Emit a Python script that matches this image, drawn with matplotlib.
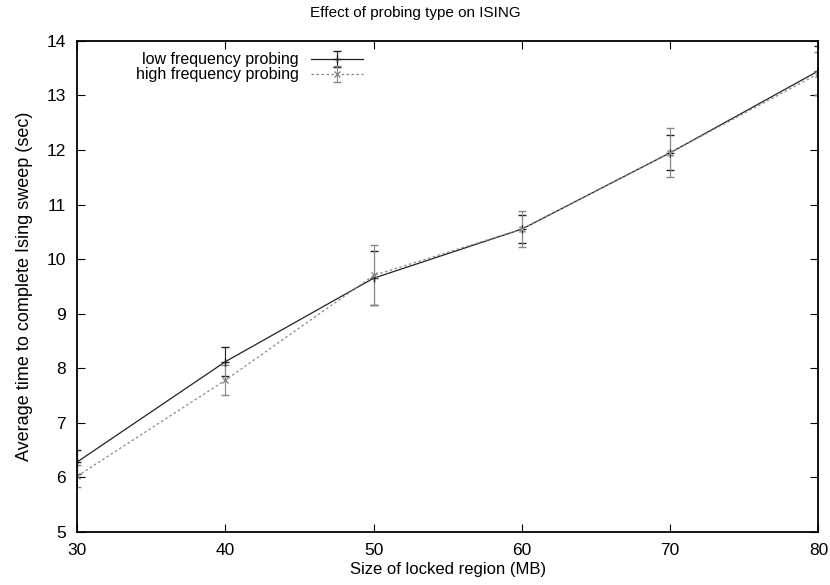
import matplotlib
matplotlib.use("Agg")
import matplotlib.pyplot as plt

plt.rcParams['font.family'] = ['Liberation Sans', 'DejaVu Sans']

# data
size_mb = [30, 40, 50, 60, 70, 80]
low_mean = [6.28, 8.12, 9.65, 10.55, 11.95, 13.45]
low_err = [0.22, 0.27, 0.50, 0.25, 0.32, 0.45]
high_mean = [6.02, 7.78, 9.70, 10.55, 11.95, 13.40]
high_err = [0.20, 0.28, 0.55, 0.33, 0.45, 0.40]

fig = plt.figure(figsize=(8.3, 5.85), dpi=100)
ax = fig.add_axes([0.093, 0.091, 0.893, 0.839])

ax.errorbar(size_mb, low_mean, yerr=low_err, color="#222222", lw=0.9,
            marker="+", ms=6, capsize=3, elinewidth=0.8,
            label="low frequency probing")
ax.errorbar(size_mb, high_mean, yerr=high_err, color="#888888", lw=0.9,
            ls=(0, (2, 2)), marker="x", ms=5, capsize=3, elinewidth=0.8,
            label="high frequency probing")

ax.set_xlim(30, 80)
ax.set_ylim(5, 14)
ax.set_xticks(range(30, 81, 10))
ax.set_yticks(range(5, 15))
ax.tick_params(direction="in", top=True, right=True, labelsize=12.5, length=6)
ax.tick_params(axis="x", pad=8)
ax.tick_params(axis="y", pad=8)
for s in ax.spines.values():
    s.set_linewidth(1.3)

ax.set_xlabel("Size of locked region (MB)", fontsize=12, labelpad=3)
ax.set_ylabel("Average time to complete Ising sweep (sec)", fontsize=13,
              labelpad=10)
fig.suptitle("Effect of probing type on ISING", fontsize=11, y=0.99)

ax.legend(loc="upper left", bbox_to_anchor=(0.064, 1.0), frameon=False,
          markerfirst=False, fontsize=11.5, handlelength=3.2,
          borderaxespad=0.3, labelspacing=0.0)

fig.savefig("out.png", dpi=100)
